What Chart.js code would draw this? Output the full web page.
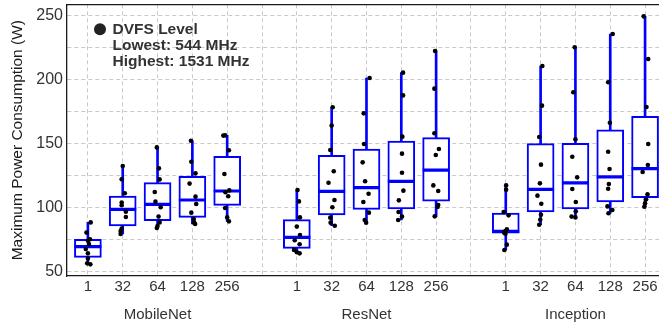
<!DOCTYPE html>
<html>
<head>
<meta charset="utf-8">
<script src="https://cdn.jsdelivr.net/npm/chart.js@4.4.1/dist/chart.umd.min.js"></script>
<style>
html, body { margin: 0; padding: 0; background: #fff; }
#wrap { width: 659px; height: 325px; }
</style>
</head>
<body>
<div id="wrap"><canvas id="chart" width="659" height="325"></canvas></div>
<script>
let models = ['MobileNet', 'ResNet', 'Inception'];
let batchSizes = ['1', '32', '64', '128', '256'];
let yTicks = [50, 75, 100, 125, 150, 175, 200, 225, 250];
let noteLines = ['DVFS Level', 'Lowest: 544 MHz', 'Highest: 1531 MHz'];

// box stats, one entry per model/batch (MobileNet 1..256, ResNet 1..256, Inception 1..256)
let lo  = [55.7, 79.5, 84.1, 87.2, 89.3,   64.3, 85.9, 88.3, 90.4, 93.2,    66.9, 86.7, 92.4, 95.6, 100.8];
let q1  = [61.2, 85.7, 89.8, 92.4, 101.8,  68.2, 94.3, 98.7, 99.0, 105.0,   80.0, 96.6, 99.0, 104.4, 107.8];
let med = [69.5, 98.7, 102.6, 106.0, 113.0, 76.8, 112.8, 115.6, 120.6, 129.4, 81.5, 114.3, 119.3, 124.0, 130.5];
let q3  = [75.3, 109.1, 119.5, 124.5, 140.1, 90.6, 140.9, 145.8, 152.1, 154.7, 95.8, 150.0, 150.3, 160.9, 171.4];
let hi  = [88.5, 132.6, 147.1, 152.3, 156.5, 113.8, 178.4, 201.3, 205.5, 222.4, 117.4, 210.7, 225.3, 235.7, 249.5];

// individual runs (one per DVFS level)
let powerPoints = [
  [88.5, 80.5, 75.3, 74.2, 71.6, 67.7, 64.3, 60.2, 56.5, 55.7],
  [132.6, 122.2, 111.3, 104, 101.9, 96.9, 92.7, 83.6, 81.8, 79.5],
  [147.1, 130.7, 122.1, 112.2, 104.7, 100.3, 93, 88.5, 85.7, 84.1],
  [152.3, 135.9, 126.8, 118.8, 108.6, 102.9, 96.1, 91.1, 88.5, 87.2],
  [156.5, 156.3, 144.8, 126.3, 113.5, 112, 108.9, 99.7, 92.4, 89.3],
  [113.8, 104.9, 92.4, 85.2, 78.6, 74.5, 71.4, 67, 65.1, 64.3],
  [178.4, 164.1, 145.1, 128.4, 119.5, 106, 100.3, 92.2, 88.3, 85.9],
  [201.3, 173.7, 149.7, 135.4, 120.6, 110.9, 104.4, 96.1, 90.4, 88.3],
  [205.5, 187.7, 155.5, 142.2, 127.3, 113.3, 105.7, 96.6, 93, 90.4],
  [222.4, 193, 158.1, 145.8, 141.1, 117.4, 113, 102.1, 100.5, 93.2],
  [117.4, 114, 96.6, 94, 83.1, 81.8, 80.5, 79.7, 71.1, 66.9],
  [210.7, 179.7, 155.2, 133.6, 119, 109.4, 103.1, 94.5, 90.6, 86.7],
  [225.3, 190.2, 153.4, 139.8, 123.7, 114.6, 104.4, 97.1, 93, 92.4],
  [235.7, 198, 166.4, 143.7, 130.2, 118.5, 114.8, 101, 98.2, 95.6],
  [249.5, 216.2, 178.6, 149.7, 133.3, 127.9, 110.4, 106.5, 103.4, 100.8]
];
// horizontal jitter of each run, in category units
let jitter = [
  [0.08, -0.04, 0.06, 0, 0.03, -0.06, 0, 0, -0.02, 0.07],
  [0, -0.03, 0.06, -0.03, -0.03, 0.09, 0.09, -0.03, -0.06, -0.06],
  [-0.02, 0.04, 0.06, -0.08, -0.06, 0.09, 0.03, 0.06, 0, -0.02],
  [-0.04, -0.03, 0.09, -0.08, 0.09, 0.11, -0.03, 0.04, 0.05, 0.08],
  [-0.06, -0.11, 0.05, -0.08, 0.06, -0.05, 0.03, -0.06, 0, 0.05],
  [0.02, 0.06, 0.09, 0, 0.09, -0.06, 0.08, -0.08, 0, 0.08],
  [0.03, 0, -0.04, 0.06, -0.09, 0.08, 0.02, -0.04, -0.03, 0.09],
  [0.09, -0.08, -0.07, -0.11, -0.04, 0.06, -0.09, 0.07, -0.05, -0.01],
  [0.05, 0.05, 0.03, 0.02, 0.02, 0.06, -0.07, -0.08, 0.02, -0.09],
  [-0.03, -0.05, -0.05, 0.08, -0.01, -0.08, 0.06, 0.06, 0.04, -0.04],
  [0.01, 0.01, -0.06, 0.08, 0.03, -0.01, -0.05, -0.01, 0.03, -0.04],
  [0.05, 0.04, -0.04, 0.01, -0.02, -0.09, 0.02, 0.01, -0.01, -0.04],
  [-0.02, -0.06, 0, -0.09, 0.05, -0.09, 0.01, 0.01, -0.11, 0],
  [0.07, -0.06, -0.01, -0.06, -0.02, -0.04, -0.06, -0.08, 0.06, -0.05],
  [-0.04, 0.09, 0.04, 0.09, 0.08, -0.07, 0.07, 0.03, 0, -0.02]
];

// x slot of each box: one empty slot between models
let slotOf = [];
let tickLabels = {};
models.forEach(function (m, mi) {
  batchSizes.forEach(function (b, bi) {
    let s = mi * (batchSizes.length + 1) + bi;
    slotOf.push(s);
    tickLabels[s] = bi === 2 ? [b, m] : b;
  });
});
let lastSlot = slotOf[slotOf.length - 1];

let whiskLow = slotOf.map((x, i) => ({ x: x, y: [lo[i], q1[i]] }));
let whiskHigh = slotOf.map((x, i) => ({ x: x, y: [q3[i], hi[i]] }));
let boxes = slotOf.map((x, i) => ({ x: x, y: [q1[i], q3[i]] }));
let medians = slotOf.map((x, i) => ({ x: x, y: med[i] }));
let runs = [];
powerPoints.forEach(function (pts, i) {
  pts.forEach(function (v, j) {
    runs.push({ x: slotOf[i] + jitter[i][j], y: v });
  });
});

const BLUE = '#0000ff';
const TXT = '#333333';
const FONT = "'Liberation Sans', Arial, sans-serif";

const dvfsNote = {
  id: 'dvfsNote',
  afterDraw(chart) {
    let ctx = chart.ctx, a = chart.chartArea;
    ctx.save();
    ctx.fillStyle = '#222222';
    ctx.beginPath();
    ctx.arc(a.left + 33, a.top + 25, 6, 0, Math.PI * 2);
    ctx.fill();
    ctx.fillStyle = TXT;
    ctx.font = "bold 15.5px " + FONT;
    ctx.textBaseline = 'middle';
    ctx.textAlign = 'left';
    noteLines.forEach(function (t, i) {
      ctx.fillText(t, a.left + 45.5, a.top + 25 + i * 16);
    });
    ctx.restore();
  }
};

let gridStyle = { color: '#c9c9c9', lineWidth: 1, drawTicks: false, offset: false };

new Chart(document.getElementById('chart'), {
  type: 'bar',
  data: {
    datasets: [
      { data: whiskLow, backgroundColor: BLUE, borderWidth: 0, barThickness: 2, grouped: false, order: 4 },
      { data: whiskHigh, backgroundColor: BLUE, borderWidth: 0, barThickness: 2, grouped: false, order: 4 },
      { data: boxes, backgroundColor: '#ffffff', borderColor: BLUE, borderWidth: 2, borderSkipped: false,
        barThickness: 27, grouped: false, order: 3 },
      { type: 'scatter', data: medians, pointStyle: 'line', pointRadius: 13.5, pointBorderWidth: 3.2,
        borderColor: BLUE, backgroundColor: BLUE, order: 2 },
      { type: 'scatter', data: runs, pointRadius: 2.3, pointBorderWidth: 0,
        backgroundColor: '#000000', borderColor: '#000000', order: 1 }
    ]
  },
  options: {
    responsive: false,
    animation: false,
    devicePixelRatio: 1,
    events: [],
    layout: { autoPadding: false, padding: { top: 4.3, right: 0, bottom: 0, left: 0 } },
    plugins: { legend: { display: false }, tooltip: { enabled: false } },
    scales: {
      x: {
        type: 'linear',
        offset: false,
        min: -0.6,
        max: lastSlot + 0.4,
        afterBuildTicks: function (axis) {
          let t = [];
          for (let s = 0; s <= lastSlot; s++) t.push({ value: s });
          axis.ticks = t;
        },
        afterFit: function (axis) { axis.height = 49; },
        ticks: {
          autoSkip: false,
          maxRotation: 0,
          padding: -3,
          color: TXT,
          font: { family: FONT, size: 15, lineHeight: 1.87 },
          callback: function (v) { return tickLabels[v] !== undefined ? tickLabels[v] : ''; }
        },
        grid: gridStyle,
        border: { display: true, color: '#1a1a1a', width: 1.3, dash: [4, 3] }
      },
      xTop: {
        type: 'linear',
        position: 'top',
        offset: false,
        min: -0.6,
        max: lastSlot + 0.4,
        afterFit: function (axis) { axis.height = 0; },
        ticks: { display: false },
        grid: { display: false, drawTicks: false, offset: false },
        border: { display: true, color: '#1a1a1a', width: 1.3 }
      },
      y: {
        type: 'linear',
        min: 46.6,
        max: 258.9,
        afterBuildTicks: function (axis) {
          axis.ticks = yTicks.map(v => ({ value: v }));
        },
        afterFit: function (axis) {
          axis.width = 67;
          axis.paddingTop = 0;
          axis.paddingBottom = 0;
        },
        ticks: {
          padding: 4,
          color: TXT,
          font: { family: FONT, size: 16 },
          callback: function (v) { return v % 50 === 0 ? String(v) : ''; }
        },
        grid: gridStyle,
        border: { display: true, color: '#1a1a1a', width: 1.3, dash: [4, 3] },
        title: {
          display: true,
          text: 'Maximum Power Consumption (W)',
          color: '#1a1a1a',
          font: { family: FONT, size: 15.5 },
          padding: { top: 8, bottom: 0 }
        }
      }
    }
  },
  plugins: [dvfsNote]
});
</script>
</body>
</html>
